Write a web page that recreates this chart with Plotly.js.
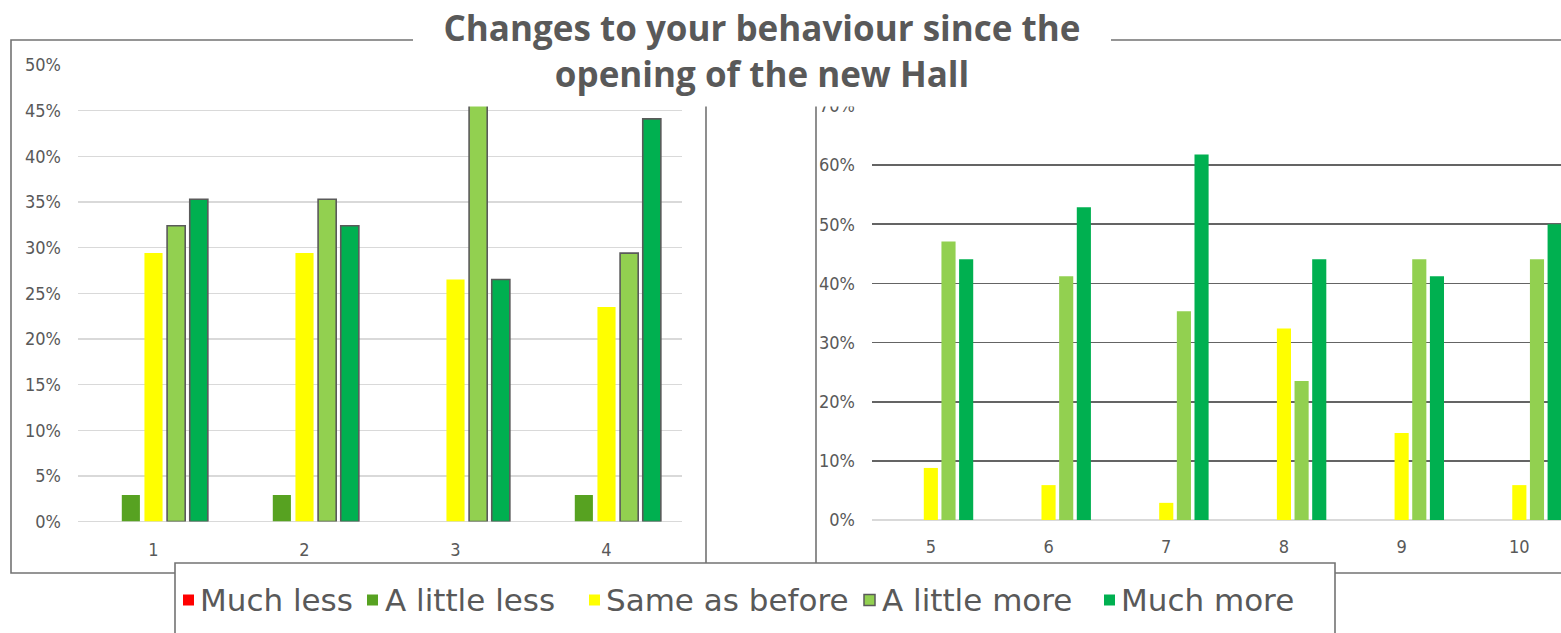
<!DOCTYPE html>
<html>
<head>
<meta charset="utf-8">
<script src="https://cdn.plot.ly/plotly-3.0.1.min.js"></script>
<style>
  html, body { margin: 0; padding: 0; background: #ffffff; }
  #chart { width: 1561px; height: 633px; }
</style>
</head>
<body>
<div id="chart"></div>
<script>
// ---------------- data ----------------
const titleText = 'Changes to your behaviour since the<br>opening of the new Hall';
const categoriesLeft = ['1', '2', '3', '4'];
const categoriesRight = ['5', '6', '7', '8', '9', '10'];
const seriesNames = ['Much less', 'A little less', 'Same as before', 'A little more', 'Much more'];

const muchLessLeft   = [0, 0, 0, 0];
const littleLessLeft = [0.029, 0.029, 0, 0.029];
const sameLeft       = [0.294, 0.294, 0.265, 0.235];
const littleMoreLeft = [0.324, 0.353, 0.471, 0.294];
const muchMoreLeft   = [0.353, 0.324, 0.265, 0.441];

const muchLessRight   = [0, 0, 0, 0, 0, 0];
const littleLessRight = [0, 0, 0, 0, 0, 0];
const sameRight       = [0.088, 0.059, 0.029, 0.324, 0.147, 0.059];
const littleMoreRight = [0.471, 0.412, 0.353, 0.235, 0.441, 0.441];
const muchMoreRight   = [0.441, 0.529, 0.618, 0.441, 0.412, 0.500];

const leftTickValues  = [0, 0.05, 0.10, 0.15, 0.20, 0.25, 0.30, 0.35, 0.40, 0.45, 0.50];
const rightTickValues = [0, 0.10, 0.20, 0.30, 0.40, 0.50, 0.60, 0.70];

// ---------------- styles ----------------
const seriesColors = ['#ff0000', '#57a221', '#ffff00', '#92d050', '#00b050'];
const W = 1561, H = 633;
const px = x => x / W;
const py = y => 1 - y / H;
const textGray = '#595959';
const frameGray = '#737373';
const tickFont = { family: 'DejaVu Sans Condensed, DejaVu Sans, sans-serif', size: 18, color: textGray };

const leftSeries = [muchLessLeft, littleLessLeft, sameLeft, littleMoreLeft, muchMoreLeft];
const rightSeries = [muchLessRight, littleLessRight, sameRight, littleMoreRight, muchMoreRight];
const leftOutlined = [false, false, false, true, true];

const traces = [];
seriesNames.forEach((name, i) => {
  traces.push({
    type: 'bar', name: name, x: categoriesLeft, y: leftSeries[i],
    xaxis: 'x', yaxis: 'y', showlegend: false, hoverinfo: 'skip',
    marker: { color: seriesColors[i], line: { color: leftOutlined[i] ? '#5a5a5a' : seriesColors[i], width: leftOutlined[i] ? 1.6 : 0 } }
  });
});
seriesNames.forEach((name, i) => {
  traces.push({
    type: 'bar', name: name, x: categoriesRight, y: rightSeries[i],
    xaxis: 'x2', yaxis: 'y2', showlegend: false, hoverinfo: 'skip',
    marker: { color: seriesColors[i], line: { width: 0 } }
  });
});

// frames, title box, legend box
const shapes = [
  { type: 'rect', xref: 'paper', yref: 'paper', x0: px(11), x1: px(706), y0: py(573), y1: py(40),
    line: { color: frameGray, width: 1.6 }, fillcolor: 'rgba(0,0,0,0)', layer: 'above' },
  { type: 'rect', xref: 'paper', yref: 'paper', x0: px(816), x1: px(1580), y0: py(573), y1: py(40),
    line: { color: frameGray, width: 1.6 }, fillcolor: 'rgba(0,0,0,0)', layer: 'above' },
  { type: 'rect', xref: 'paper', yref: 'paper', x0: px(413), x1: px(1111), y0: py(106.5), y1: py(-5),
    line: { width: 0 }, fillcolor: '#ffffff', layer: 'above' },
  { type: 'rect', xref: 'paper', yref: 'paper', x0: px(175), x1: px(1335), y0: py(645), y1: py(563),
    line: { color: frameGray, width: 1.6 }, fillcolor: '#ffffff', layer: 'above' }
];

// legend entries (built from series names / colours)
const legendSymbolX = [183, 367, 589, 864, 1104];
const legendTextX = [198, 383, 604, 880, 1119];
const legendY = 600;
const annotations = [];
seriesNames.forEach((name, i) => {
  shapes.push({ type: 'rect', xref: 'paper', yref: 'paper',
    x0: px(legendSymbolX[i]), x1: px(legendSymbolX[i] + 11), y0: py(legendY + 5.5), y1: py(legendY - 5.5),
    fillcolor: seriesColors[i], line: { color: i === 3 ? '#5a5a5a' : seriesColors[i], width: i === 3 ? 1.5 : 0 }, layer: 'above' });
  annotations.push({ xref: 'paper', yref: 'paper', x: px(legendTextX[i]), y: py(legendY),
    xanchor: 'left', yanchor: 'middle', showarrow: false, text: name,
    font: { family: 'DejaVu Sans, sans-serif', size: 31, color: textGray } });
});

const layout = {
  width: W, height: H,
  margin: { l: 0, r: 0, t: 0, b: 0 },
  paper_bgcolor: '#ffffff', plot_bgcolor: 'rgba(0,0,0,0)',
  showlegend: false,
  barmode: 'group', bargap: 0.25, bargroupgap: 0.2,
  title: { text: titleText, x: px(762), xref: 'paper', xanchor: 'center', y: py(41), yref: 'paper', yanchor: 'middle',
    font: { family: 'Open Sans, sans-serif', size: 35, color: textGray, weight: 'bold' } },
  xaxis: { domain: [px(78), px(682)], type: 'category', range: [-0.5, 3.5], showgrid: false, zeroline: false,
    showline: false, ticks: '', tickfont: tickFont, ticklabelstandoff: 15, fixedrange: true },
  yaxis: { domain: [py(521.5), py(65)], range: [0, 0.5], tickvals: leftTickValues, tickformat: '.0%',
    showgrid: true, gridcolor: '#d9d9d9', gridwidth: 1.3, zeroline: true, zerolinecolor: '#d9d9d9', zerolinewidth: 1.8,
    showline: false, ticks: '', tickfont: tickFont, ticklabelstandoff: 16, fixedrange: true },
  xaxis2: { domain: [px(872), 1], type: 'category', range: [-0.5, 5.354], showgrid: false, zeroline: false,
    showline: false, ticks: '', tickfont: tickFont, ticklabelstandoff: 14, anchor: 'y2', fixedrange: true },
  yaxis2: { domain: [py(520), py(106)], range: [0, 0.7], tickvals: rightTickValues, tickformat: '.0%',
    showgrid: true, gridcolor: '#646464', gridwidth: 1.6, zeroline: true, zerolinecolor: '#d9d9d9', zerolinewidth: 1.8,
    showline: false, ticks: '', tickfont: tickFont, ticklabelstandoff: 16, anchor: 'x2', fixedrange: true },
  shapes: shapes,
  annotations: annotations
};

Plotly.newPlot('chart', traces, layout, { displayModeBar: false, staticPlot: true });
</script>
</body>
</html>
